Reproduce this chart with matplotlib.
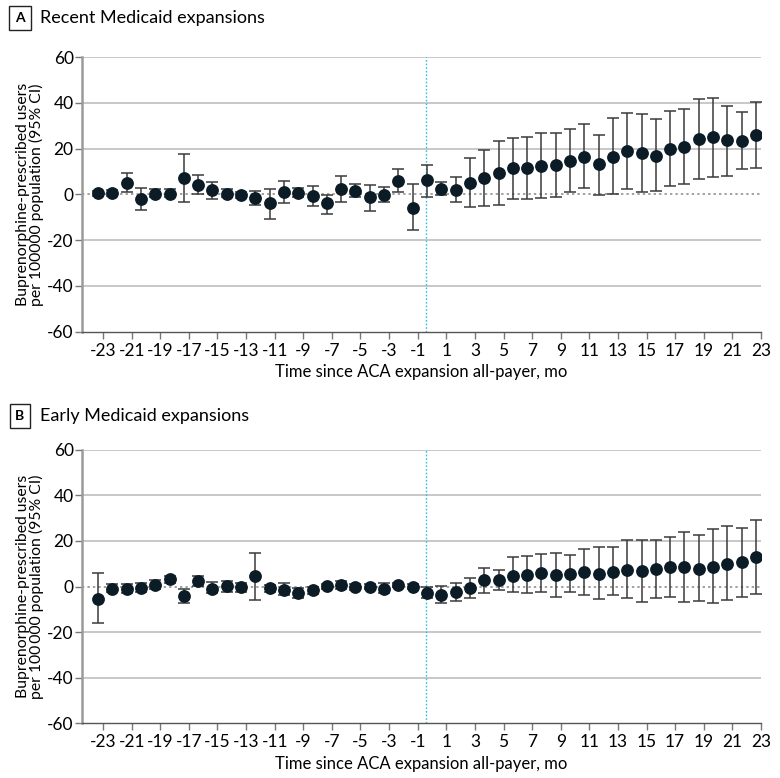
import matplotlib
matplotlib.use("Agg")
import matplotlib.pyplot as plt
import numpy as np

plt.rcParams['font.family'] = ['Lato', 'DejaVu Sans']

months = list(range(-23, 24))
tick_months = list(range(-23, 24, 2))
y_ticks = [-60, -40, -20, 0, 20, 40, 60]

# Panel A: Recent Medicaid expansions
recent_est = [0.4, 0.4, 4.8, -2.0, 0.3, 0.2, 7.2, 4.2, 1.9, 0.0, -0.4, -1.6, -3.9, 1.0, 0.6, -0.6,
              -3.9, 2.5, 1.3, -1.2, -0.3, 6.0, -5.8,
              6.1, 2.3, 2.0, 5.1, 7.0, 9.5, 11.5, 11.7, 12.3, 12.7, 14.5, 16.5, 13.1, 16.4, 19.1,
              18.1, 16.9, 19.7, 20.6, 24.2, 25.0, 23.9, 23.2, 26.0]
recent_lo = [-0.8, -0.6, 1.0, -6.9, -1.0, -1.0, -3.2, 0.3, -2.0, -1.3, -1.6, -4.5, -10.8, -3.6, -1.0, -5.3,
             -8.8, -3.2, -1.2, -7.3, -3.5, 0.9, -15.6,
             -1.0, -0.1, -3.4, -5.4, -5.3, -4.8, -2.0, -2.0, -1.8, -1.2, 0.9, 2.9, -0.3, 0.1, 2.5,
             1.2, 1.5, 3.7, 4.4, 6.6, 7.6, 8.0, 11.0, 11.4]
recent_hi = [1.5, 1.8, 9.2, 2.8, 2.5, 2.5, 17.7, 8.5, 5.4, 2.2, 1.2, 1.3, 2.5, 5.7, 2.6, 3.6,
             -0.1, 8.0, 4.5, 4.2, 3.4, 11.0, 4.4,
             12.7, 5.4, 7.4, 15.8, 19.4, 23.2, 24.7, 25.0, 27.0, 26.7, 28.5, 30.7, 26.1, 33.3, 35.6,
             35.0, 33.1, 36.5, 37.1, 41.6, 42.3, 38.7, 35.8, 40.4]

# Panel B: Early Medicaid expansions
early_est = [-5.5, -1.2, -1.3, -0.6, 0.6, 3.2, -4.2, 2.5, -0.9, 0.1, 0.0, 4.5, -0.7, -1.5, -2.9, -1.6,
             0.1, 0.6, -0.1, 0.0, -0.9, 0.7, -0.1,
             -2.8, -3.6, -2.6, -0.7, 2.8, 3.0, 4.8, 5.2, 5.9, 5.2, 5.4, 6.4, 5.7, 6.5, 7.3,
             6.8, 7.7, 8.4, 8.4, 7.8, 8.7, 10.0, 10.7, 12.8]
early_lo = [-16.1, -2.6, -3.0, -2.5, -1.3, 1.6, -7.1, 0.1, -3.0, -2.3, -2.2, -5.9, -2.2, -3.6, -5.1, -3.2,
            -1.2, -0.9, -1.5, -1.3, -2.9, -0.3, -1.2,
            -5.1, -7.1, -6.2, -4.9, -2.9, -1.5, -2.3, -2.9, -2.6, -4.4, -2.5, -3.9, -5.7, -3.8, -4.9,
            -7.0, -4.9, -4.4, -6.8, -6.5, -7.3, -6.1, -4.6, -3.5]
early_hi = [6.1, 0.9, 1.3, 1.6, 3.0, 4.8, -1.3, 4.8, 1.9, 2.3, 1.6, 14.8, 0.6, 1.7, -0.7, 0.0,
            1.3, 2.2, 1.0, 1.3, 1.6, 1.7, 0.9,
            -0.1, 0.1, 1.7, 3.8, 8.0, 7.3, 12.8, 13.5, 14.4, 14.9, 13.6, 16.5, 17.4, 17.4, 20.2,
            20.2, 20.2, 21.9, 23.9, 22.8, 25.2, 26.7, 25.8, 29.1]

panels = [
    dict(letter="A", title="Recent Medicaid expansions",
         ylabel="Buprenorphine-prescribed users\nper 100000 population (95% CI)",
         est=recent_est, lo=recent_lo, hi=recent_hi,
         rect=[82/780, 1-331.7/778, 679/780, 274.7/778], title_y=1-18/778),
    dict(letter="B", title="Early Medicaid expansions",
         ylabel="Buprenorphine-prescribed users\nper 100\u2009000 population (95% CI)",
         est=early_est, lo=early_lo, hi=early_hi,
         rect=[82/780, 1-723.3/778, 679/780, 273.6/778], title_y=1-416/778),
]

fig = plt.figure(figsize=(7.8, 7.78), dpi=100)

GRID = "#c4c4c4"
POINT = "#0b1c26"
SHIFT = -0.35  # points are drawn slightly left of their tick in the reference

for p in panels:
    ax = fig.add_axes(p["rect"])
    x = np.array(months, dtype=float) + SHIFT
    est = np.array(p["est"])
    lo = np.array(p["lo"])
    hi = np.array(p["hi"])
    for yv in [-40, -20, 20, 40, 60]:
        ax.axhline(yv, color=GRID, lw=1.3, zorder=0)
    ax.axhline(0, color="#a0a0a0", lw=1.4, ls=(0, (1.2, 1.6)), zorder=1)
    ax.axvline(-0.45, color="#33c0e6", lw=1.0, ls=(0, (1.2, 1.4)), zorder=1)
    ax.errorbar(x, est, yerr=[est - lo, hi - est], fmt="o", color=POINT,
                ecolor="#3a3a3a", elinewidth=1.1, capsize=4.2, capthick=1.1,
                markersize=8.2, zorder=3)
    ax.set_xlim(-24.47, 23.0)
    ax.set_ylim(-60, 60)
    ax.set_xticks(tick_months)
    ax.set_xticklabels([f"{m}" for m in tick_months])
    ax.set_yticks(y_ticks)
    ax.set_yticklabels([f"{v}" for v in y_ticks])
    for s in ["top", "right"]:
        ax.spines[s].set_visible(False)
    ax.spines["left"].set_color("#9a9a9a")
    ax.spines["left"].set_linewidth(1.8)
    ax.spines["bottom"].set_color("#555555")
    ax.spines["bottom"].set_linewidth(1.0)
    ax.tick_params(axis="y", length=5, width=1.0, color="#777777", labelsize=12.5, pad=1)
    ax.tick_params(axis="x", length=5, width=1.0, color="#777777", labelsize=12.5, pad=3)
    ax.set_ylabel(p["ylabel"], fontsize=11.3, labelpad=2, linespacing=0.95)
    ax.set_xlabel("Time since ACA expansion all-payer, mo", fontsize=12, labelpad=4)
    fig.text(20/780, p["title_y"], p["letter"], fontsize=10, fontweight="bold",
             ha="center", va="center",
             bbox=dict(boxstyle="square,pad=0.42", fc="white", ec="#222222", lw=1.0))
    fig.text(40/780, p["title_y"], p["title"], fontsize=13, ha="left", va="center")

fig.savefig("out.png", dpi=100)
